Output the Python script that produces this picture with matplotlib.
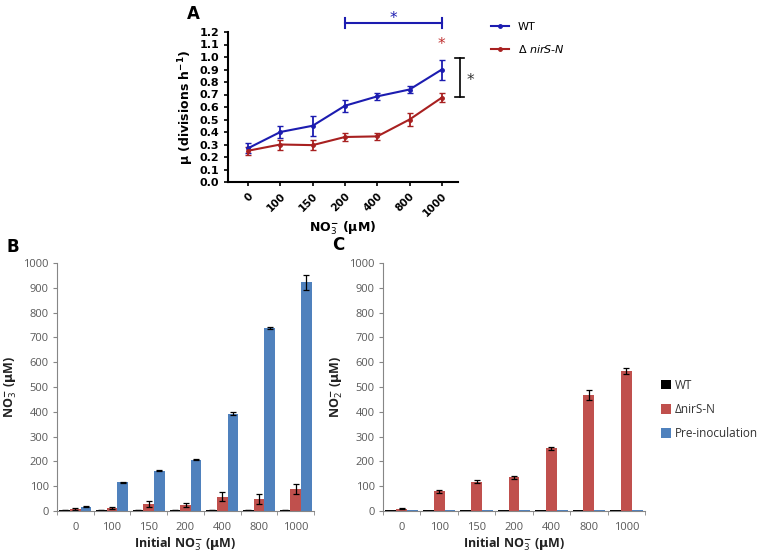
import numpy as np
import matplotlib.pyplot as plt
from matplotlib.lines import Line2D

# ---- data ----
conc = ['0', '100', '150', '200', '400', '800', '1000']

mu_wt = [0.27, 0.40, 0.45, 0.61, 0.685, 0.74, 0.90]
mu_wt_err = [0.04, 0.05, 0.08, 0.05, 0.03, 0.03, 0.08]
mu_mut = [0.25, 0.30, 0.295, 0.36, 0.365, 0.50, 0.675]
mu_mut_err = [0.03, 0.04, 0.04, 0.03, 0.03, 0.05, 0.035]

no3_wt = [5, 5, 5, 5, 5, 5, 5]
no3_wt_err = [1, 1, 1, 1, 1, 1, 1]
no3_mut = [8, 12, 30, 25, 58, 48, 88]
no3_mut_err = [3, 3, 12, 8, 18, 20, 20]
no3_pre = [18, 115, 162, 207, 393, 738, 922]
no3_pre_err = [2, 3, 2, 1, 5, 5, 30]

no2_wt = [4, 4, 4, 4, 4, 4, 4]
no2_mut = [10, 80, 117, 137, 253, 467, 563]
no2_mut_err = [2, 6, 6, 6, 6, 20, 12]
no2_pre = [4, 4, 4, 4, 4, 4, 4]

W, H = 771, 557
fig = plt.figure(figsize=(W / 100, H / 100), dpi=100)

def px_axes(l, t, r, b):
    return fig.add_axes([l / W, 1 - b / H, (r - l) / W, (b - t) / H])

blue_l = '#1c1cb0'
red_l = '#a82020'

# ---- panel A ----
ax = px_axes(228, 32, 458, 182)
x = np.arange(len(conc))
ax.errorbar(x, mu_wt, yerr=mu_wt_err, color=blue_l, marker='o', ms=2.5,
            lw=1.5, capsize=2, elinewidth=1.3)
ax.errorbar(x, mu_mut, yerr=mu_mut_err, color=red_l, marker='o', ms=2.5,
            lw=1.5, capsize=2, elinewidth=1.3)
ax.set_xlim(-0.62, 6.5)
ax.set_ylim(0, 1.2)
ax.set_yticks(np.arange(0, 1.21, 0.1))
ax.set_yticklabels([f'{v:.1f}' for v in np.arange(0, 1.21, 0.1)],
                   fontsize=8, fontweight='bold')
ax.set_xticks(x)
ax.set_xticklabels(conc, rotation=45, ha='right', rotation_mode='anchor',
                   fontsize=7.5, fontweight='bold')
ax.tick_params(length=3, width=1.2, direction='out')
for s in ['top', 'right']:
    ax.spines[s].set_visible(False)
for s in ['left', 'bottom']:
    ax.spines[s].set_linewidth(1.5)
ax.set_ylabel(r'$\mathbf{\mu}$ (divisions h$^{\mathbf{-1}}$)', fontsize=9,
              fontweight='bold', labelpad=2)
ax.set_xlabel(r'NO$_3^{\mathbf{-}}$ ($\mathbf{\mu}$M)', fontsize=9,
              fontweight='bold', labelpad=1)
# significance marks
ax.plot([3, 6], [1.27, 1.27], color=blue_l, lw=1.5, clip_on=False)
ax.plot([3, 3], [1.23, 1.31], color=blue_l, lw=1.5, clip_on=False)
ax.plot([6, 6], [1.23, 1.31], color=blue_l, lw=1.5, clip_on=False)
ax.text(4.5, 1.31, '*', color=blue_l, fontsize=11, ha='center', va='center')
ax.text(6, 1.10, '*', color='#c03030', fontsize=11, ha='center', va='center')
ax.plot([6.55, 6.55], [0.68, 0.99], color='black', lw=1.2, clip_on=False)
ax.plot([6.42, 6.68], [0.99, 0.99], color='black', lw=1.2, clip_on=False)
ax.plot([6.42, 6.68], [0.68, 0.68], color='black', lw=1.2, clip_on=False)
ax.text(6.88, 0.81, '*', color='#333333', fontsize=11, ha='center', va='center')
handles = [Line2D([], [], color=blue_l, marker='o', ms=2.5, lw=1.5),
           Line2D([], [], color=red_l, marker='o', ms=2.5, lw=1.5)]
ax.legend(handles, ['WT', r'$\Delta$ $\it{nirS}$-$\it{N}$'], loc='upper left',
          bbox_to_anchor=(1.1, 1.135), frameon=False,
          fontsize=8, handlelength=1.6, labelspacing=1.0)
fig.text(193 / W, 1 - 14 / H, 'A', fontsize=12, fontweight='bold',
         ha='center', va='center')

# ---- panels B and C ----
c_wt = 'black'
c_mut = '#c0504d'
c_pre = '#4f81bd'
grey = '#595959'
bw = 0.29
font_bc = ['Open Sans', 'DejaVu Sans']

def style_bar_axes(a, ylabel):
    a.set_xlim(-0.5, 6.5)
    a.set_ylim(0, 1000)
    a.set_yticks(np.arange(0, 1001, 100))
    a.set_xticks(x)
    a.set_xticklabels(conc)
    a.set_xticks(np.arange(-0.5, 7, 1), minor=True)
    a.tick_params(axis='x', which='major', length=0, pad=8)
    a.tick_params(axis='x', which='minor', length=3, color='#868686')
    a.tick_params(axis='y', length=3, color='#868686', pad=3)
    for lab in a.get_xticklabels() + a.get_yticklabels():
        lab.set_fontsize(8)
        lab.set_color(grey)
        lab.set_family(font_bc)
    for s in ['top', 'right']:
        a.spines[s].set_visible(False)
    for s in ['left', 'bottom']:
        a.spines[s].set_color('#868686')
        a.spines[s].set_linewidth(0.8)
    a.set_ylabel(ylabel, fontsize=9, fontweight='bold', family=font_bc,
                 color='#222222', labelpad=3)
    a.set_xlabel(r'Initial NO$_3^{\mathbf{-}}$ ($\mathbf{\mu}$M)', fontsize=9,
                 fontweight='bold', family=font_bc, color='#222222', labelpad=2)

ek = dict(ecolor='black', capsize=2.5, elinewidth=0.9, capthick=0.9)

axb = px_axes(57, 263, 314, 511)
axb.bar(x - bw, no3_wt, bw, color=c_wt, yerr=no3_wt_err, error_kw=ek)
axb.bar(x, no3_mut, bw, color=c_mut, yerr=no3_mut_err, error_kw=ek)
axb.bar(x + bw, no3_pre, bw, color=c_pre, yerr=no3_pre_err, error_kw=ek)
style_bar_axes(axb, r'NO$_3^{\mathbf{-}}$ ($\mathbf{\mu}$M)')
fig.text(13 / W, 1 - 247 / H, 'B', fontsize=12, fontweight='bold',
         ha='center', va='center')

axc = px_axes(383, 263, 645, 511)
axc.bar(x - bw, no2_wt, bw, color=c_wt, label='WT')
axc.bar(x, no2_mut, bw, color=c_mut, yerr=no2_mut_err, error_kw=ek,
        label='\u0394nirS-N')
axc.bar(x + bw, no2_pre, bw, color=c_pre, label='Pre-inoculation')
style_bar_axes(axc, r'NO$_2^{\mathbf{-}}$ ($\mathbf{\mu}$M)')
leg = axc.legend(loc='center left', bbox_to_anchor=(1.02, 0.41), frameon=False,
                 handlelength=0.9, handleheight=0.9, handletextpad=0.3,
                 labelspacing=0.95, prop={'family': font_bc, 'size': 8.5})
for t in leg.get_texts():
    t.set_color('#333333')
fig.text(338 / W, 1 - 245 / H, 'C', fontsize=12, fontweight='bold',
         ha='center', va='center')

fig.savefig('out.png', dpi=100)
